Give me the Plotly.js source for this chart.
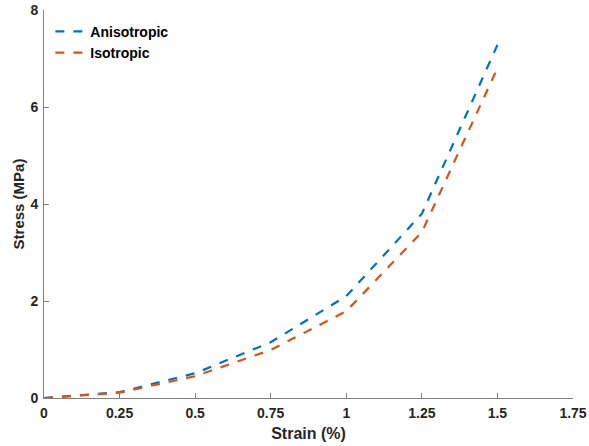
<!DOCTYPE html>
<html>
<head>
<meta charset="utf-8">
<script src="https://cdn.plot.ly/plotly-3.0.1.min.js"></script>
<style>html,body{margin:0;padding:0;background:#fff;}#chart{width:589px;height:446px;}</style>
</head>
<body>
<div id="chart"></div>
<script>
const strain = [0, 0.25, 0.5, 0.75, 1.0, 1.25, 1.5];
const anisotropic = [0, 0.12, 0.51, 1.15, 2.1, 3.8, 7.28];
const isotropic = [0, 0.11, 0.45, 0.99, 1.79, 3.42, 6.8];
const xTicks = [0, 0.25, 0.5, 0.75, 1, 1.25, 1.5, 1.75];
const xTickText = ['0', '0.25', '0.5', '0.75', '1', '1.25', '1.5', '1.75'];
const yTicks = [0, 2, 4, 6, 8];

const font = 'Liberation Sans, Arial, sans-serif';
const traces = [
  {x: strain, y: anisotropic, name: 'Anisotropic', mode: 'lines',
   line: {color: '#0072BD', width: 2.2, dash: 'dash'}},
  {x: strain, y: isotropic, name: 'Isotropic', mode: 'lines',
   line: {color: '#D95319', width: 2.2, dash: 'dash'}}
];
const layout = {
  width: 589, height: 446,
  margin: {l: 44, r: 16, t: 10, b: 48},
  paper_bgcolor: '#fff', plot_bgcolor: '#fff',
  font: {family: font, color: '#262626'},
  showlegend: true,
  legend: {x: 0.012, y: 0.985, xanchor: 'left', yanchor: 'top', bgcolor: 'rgba(0,0,0,0)',
           font: {family: font, size: 14, color: '#000', weight: 'bold'}, tracegroupgap: 0},
  xaxis: {
    range: [0, 1.75], tickvals: xTicks, ticktext: xTickText,
    showgrid: false, zeroline: false, showline: true, linecolor: '#808080', linewidth: 1,
    ticks: 'inside', ticklen: 5, tickcolor: '#808080', ticklabelstandoff: 2,
    tickfont: {family: font, size: 14, color: '#262626', weight: 'bold'},
    title: {text: 'Strain (%)', font: {family: font, size: 16, color: '#262626', weight: 'bold'}, standoff: 8}
  },
  yaxis: {
    range: [0, 8], tickvals: yTicks,
    showgrid: false, zeroline: false, showline: true, linecolor: '#808080', linewidth: 1,
    ticks: 'inside', ticklen: 5, tickcolor: '#808080', ticklabelstandoff: 2,
    tickfont: {family: font, size: 14, color: '#262626', weight: 'bold'},
    title: {text: 'Stress (MPa)', font: {family: font, size: 15, color: '#262626', weight: 'bold'}, standoff: 2}
  }
};
Plotly.newPlot('chart', traces, layout, {displayModeBar: false, staticPlot: true});
</script>
</body>
</html>
